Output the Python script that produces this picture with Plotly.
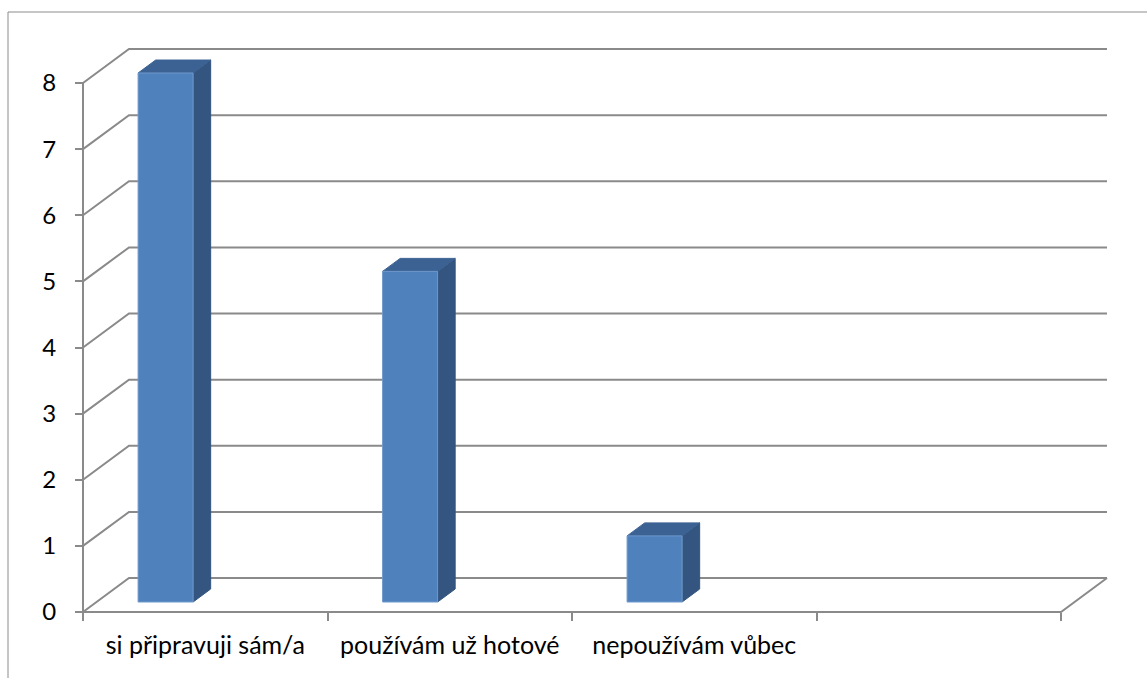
import plotly.graph_objects as go

# ---- data -------------------------------------------------------------
categories = ["si připravuji sám/a", "používám už hotové", "nepoužívám vůbec", ""]
values = [8, 5, 1, None]          # the fourth category has no answer
y_ticks = [0, 1, 2, 3, 4, 5, 6, 7, 8]

# ---- page / pseudo-3D geometry ---------------------------------------
W, H = 1147, 678
ORIGIN_PX = (83, 612)             # pixel of (x=0, value=0) on the front plane
CAT_PX = 244.5                    # pixels per category
UNIT_PX = 66.125                  # pixels per value unit
WALL_SHIFT_PX = (46, 34)          # how far the back wall sits right / up

n_cat = len(categories)
v_max = max(y_ticks)
dx = WALL_SHIFT_PX[0] / CAT_PX    # depth shift in data units
dy = WALL_SHIFT_PX[1] / UNIT_PX

x_range = [-ORIGIN_PX[0] / CAT_PX, (W - ORIGIN_PX[0]) / CAT_PX]
y_range = [-(H - ORIGIN_PX[1]) / UNIT_PX, ORIGIN_PX[1] / UNIT_PX]

BAR_L, BAR_R = 0.17, 0.395        # bar edges inside a category
BAR_D0, BAR_D1 = 0.294, 0.676     # bar front / back depth

GRID = "#8a8a8a"
FRONT = "#4f81bd"
SIDE = "#33557f"
TOP = "#3c6293"
FONT = "Lato"


def proj(x, v, d):
    """Data point (x, value) at depth d (0 = front, 1 = back wall)."""
    return x + d * dx, v + d * dy


def path(points):
    xs, ys = [], []
    for p in points:
        px, py = proj(*p)
        xs.append(px)
        ys.append(py)
    return xs, ys


fig = go.Figure()

# ---- walls: side-wall diagonals, back-wall lines, floor, value axis ----
gx, gy = [], []
for v in y_ticks:
    xs, ys = path([(0, v, 0), (0, v, 1), (n_cat, v, 1)])
    gx += xs + [None]
    gy += ys + [None]
xs, ys = path([(n_cat, 0, 1), (n_cat, 0, 0), (0, 0, 0), (0, v_max, 0)])
gx += xs
gy += ys
fig.add_trace(go.Scatter(x=gx, y=gy, mode="lines",
                         line=dict(color=GRID, width=2),
                         hoverinfo="skip", showlegend=False))

# ---- bars --------------------------------------------------------------
for i, (cat, v) in enumerate(zip(categories, values)):
    if v is None:
        continue
    l, r = i + BAR_L, i + BAR_R
    side = path([(r, 0, BAR_D0), (r, 0, BAR_D1), (r, v, BAR_D1), (r, v, BAR_D0), (r, 0, BAR_D0)])
    top = path([(l, v, BAR_D0), (r, v, BAR_D0), (r, v, BAR_D1), (l, v, BAR_D1), (l, v, BAR_D0)])
    front = path([(l, 0, BAR_D0), (r, 0, BAR_D0), (r, v, BAR_D0), (l, v, BAR_D0), (l, 0, BAR_D0)])
    for (fx, fy), col, edge in ((side, SIDE, SIDE), (top, TOP, TOP), (front, FRONT, "#6f98cc")):
        fig.add_trace(go.Scatter(x=fx, y=fy, mode="lines", fill="toself",
                                 fillcolor=col, line=dict(color=edge, width=1),
                                 name=cat, hovertemplate=f"{cat}: {v}<extra></extra>",
                                 showlegend=False))

# invisible trace that carries the labelled axes
fig.add_trace(go.Scatter(x=[None], y=[None], xaxis="x2", yaxis="y2",
                         showlegend=False, hoverinfo="skip"))

fig.update_layout(
    width=W, height=H,
    margin=dict(l=0, r=0, t=0, b=0),
    paper_bgcolor="white", plot_bgcolor="white",
    xaxis=dict(range=x_range, visible=False, domain=[0, 1]),
    yaxis=dict(range=y_range, visible=False, domain=[0, 1]),
    xaxis2=dict(
        range=x_range, overlaying="x", anchor="free",
        position=(H - ORIGIN_PX[1]) / H,
        tickmode="array",
        tickvals=[i + 0.5 for i in range(n_cat)],
        ticktext=categories,
        ticks="", showgrid=False, zeroline=False, showline=False,
        tickfont=dict(family=FONT, size=25, color="#000000"),
        ticklabelstandoff=16,
        minor=dict(tickmode="array", tickvals=list(range(n_cat + 1)),
                   ticks="outside", ticklen=8, tickwidth=2, tickcolor=GRID,
                   showgrid=False),
    ),
    yaxis2=dict(
        range=y_range, overlaying="y", anchor="free",
        position=ORIGIN_PX[0] / W,
        tickmode="array", tickvals=y_ticks,
        ticks="outside", ticklen=8, tickwidth=2, tickcolor=GRID,
        showgrid=False, zeroline=False, showline=False,
        tickfont=dict(family=FONT, size=24, color="#000000"),
        ticklabelstandoff=14,
    ),
    shapes=[dict(type="rect", xref="paper", yref="paper",
                 x0=8 / W, x1=1.02, y0=-0.02, y1=1 - 12 / H,
                 line=dict(color="#8c8c8c", width=1), layer="below")],
)

fig.write_html("out.html")
